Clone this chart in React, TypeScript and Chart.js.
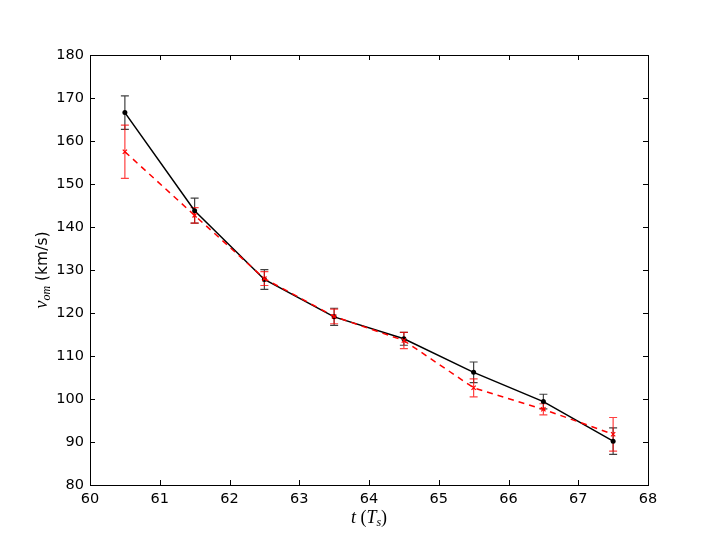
import React, { useEffect, useRef } from "react";
import { Chart, registerables } from "chart.js";

Chart.register(...registerables);

const tValues = [60.5, 61.5, 62.5, 63.5, 64.5, 65.5, 66.5, 67.5];
const blackValues = [166.6, 143.8, 127.8, 119.1, 114.0, 106.2, 99.4, 90.2];
const blackErrors = [3.9, 2.9, 2.3, 2.0, 1.5, 2.4, 1.7, 3.1];
const redValues = [157.5, 142.7, 128.0, 119.2, 113.6, 102.6, 97.6, 91.8];
const redErrors = [6.2, 1.8, 1.6, 1.7, 1.9, 2.1, 1.3, 3.9];
const xTicks = [60, 61, 62, 63, 64, 65, 66, 67, 68];
const yTicks = [80, 90, 100, 110, 120, 130, 140, 150, 160, 170, 180];

const errorSets = [
  { values: blackValues, errors: blackErrors, color: "rgba(0,0,0,0.75)" },
  { values: redValues, errors: redErrors, color: "rgba(255,0,0,0.75)" },
];

const errPlugin = {
  id: "errbars",
  beforeDatasetsDraw(chart: any) {
    const ctx = chart.ctx;
    const xs = chart.scales.x;
    const ys = chart.scales.y;
    ctx.save();
    errorSets.forEach((set) => {
      ctx.strokeStyle = set.color;
      ctx.lineWidth = 1.2;
      set.values.forEach((v, j) => {
        const x = xs.getPixelForValue(tValues[j]);
        const yt = ys.getPixelForValue(v + set.errors[j]);
        const yb = ys.getPixelForValue(v - set.errors[j]);
        ctx.beginPath();
        ctx.moveTo(x, yt);
        ctx.lineTo(x, yb);
        ctx.moveTo(x - 4, yt);
        ctx.lineTo(x + 4, yt);
        ctx.moveTo(x - 4, yb);
        ctx.lineTo(x + 4, yb);
        ctx.stroke();
      });
    });
    ctx.restore();
  },
  afterDraw(chart: any) {
    const ctx = chart.ctx;
    const a = chart.chartArea;
    const xs = chart.scales.x;
    const ys = chart.scales.y;
    ctx.save();
    ctx.strokeStyle = "#000";
    ctx.lineWidth = 1;
    ctx.strokeRect(a.left + 0.5, a.top + 0.5, a.right - a.left, a.bottom - a.top);
    const L = 5;
    ctx.beginPath();
    xTicks.forEach((t) => {
      const x = Math.round(xs.getPixelForValue(t)) + 0.5;
      ctx.moveTo(x, a.bottom);
      ctx.lineTo(x, a.bottom - L);
      ctx.moveTo(x, a.top);
      ctx.lineTo(x, a.top + L);
    });
    yTicks.forEach((t) => {
      const y = Math.round(ys.getPixelForValue(t)) + 0.5;
      ctx.moveTo(a.left, y);
      ctx.lineTo(a.left + L, y);
      ctx.moveTo(a.right, y);
      ctx.lineTo(a.right - L, y);
    });
    ctx.stroke();

    // x axis title: t (T_s)
    ctx.fillStyle = "#000";
    ctx.textBaseline = "alphabetic";
    const cx = (a.left + a.right) / 2;
    const by = 523;
    const parts = [
      { t: "t", f: "italic 18px 'Liberation Serif'", dy: 0 },
      { t: " (", f: "18px 'Liberation Serif'", dy: 0 },
      { t: "T", f: "italic 18px 'Liberation Serif'", dy: 0 },
      { t: "s", f: "italic 12px 'Liberation Serif'", dy: 3 },
      { t: ")", f: "18px 'Liberation Serif'", dy: 0 },
    ];
    let total = 0;
    parts.forEach((p) => {
      ctx.font = p.f;
      total += ctx.measureText(p.t).width;
    });
    let x0 = cx - total / 2;
    ctx.textAlign = "left";
    parts.forEach((p) => {
      ctx.font = p.f;
      ctx.fillText(p.t, x0, by + p.dy);
      x0 += ctx.measureText(p.t).width;
    });

    // y axis title: v_om (km/s)
    ctx.translate(47, (a.top + a.bottom) / 2);
    ctx.rotate(-Math.PI / 2);
    const yparts = [
      { t: "v", f: "italic 18px 'Liberation Serif'", dy: 0 },
      { t: "om", f: "italic 12px 'Liberation Serif'", dy: 3 },
      { t: " (km/s)", f: "15.5px 'DejaVu Sans'", dy: 0 },
    ];
    total = 0;
    yparts.forEach((p) => {
      ctx.font = p.f;
      total += ctx.measureText(p.t).width;
    });
    x0 = -total / 2;
    yparts.forEach((p) => {
      ctx.font = p.f;
      ctx.fillText(p.t, x0, p.dy);
      x0 += ctx.measureText(p.t).width;
    });
    ctx.restore();
  },
};

export default function App() {
  const ref = useRef<HTMLCanvasElement>(null);
  useEffect(() => {
    if (!ref.current) return;
    const chart = new Chart(ref.current, {
      type: "line",
      data: {
        datasets: [
          {
            label: "black",
            data: tValues.map((t, i) => ({ x: t, y: blackValues[i] })),
            borderColor: "#000",
            backgroundColor: "#000",
            borderWidth: 1.5,
            pointRadius: 2.5,
            pointStyle: "circle",
            pointBorderWidth: 0,
            order: 1,
          },
          {
            label: "red",
            data: tValues.map((t, i) => ({ x: t, y: redValues[i] })),
            borderColor: "#ff0000",
            backgroundColor: "#ff0000",
            borderWidth: 1.5,
            borderDash: [6, 5],
            pointRadius: 3,
            pointStyle: "crossRot",
            pointBorderWidth: 1.2,
            order: 0,
          },
        ],
      },
      options: {
        animation: false,
        responsive: false,
        maintainAspectRatio: false,
        layout: { padding: { left: 0, top: 55, right: 72, bottom: 0 } },
        plugins: { legend: { display: false }, tooltip: { enabled: false } },
        scales: {
          x: {
            type: "linear",
            min: 60,
            max: 68,
            afterFit: (s: any) => {
              s.height = 55;
            },
            afterBuildTicks: (s: any) => {
              s.ticks = xTicks.map((v) => ({ value: v }));
            },
            grid: { display: false, drawTicks: false },
            border: { display: false },
            ticks: {
              color: "#000",
              padding: 6,
              font: { family: "DejaVu Sans", size: 14.5 },
            },
          },
          y: {
            type: "linear",
            min: 80,
            max: 180,
            afterFit: (s: any) => {
              s.width = 90;
            },
            afterBuildTicks: (s: any) => {
              s.ticks = yTicks.map((v) => ({ value: v }));
            },
            grid: { display: false, drawTicks: false },
            border: { display: false },
            ticks: {
              color: "#000",
              padding: 6,
              font: { family: "DejaVu Sans", size: 14.5 },
            },
          },
        },
      },
      plugins: [errPlugin],
    });
    return () => chart.destroy();
  }, []);
  return (
    <div style={{ position: "fixed", left: 0, top: 0, width: 720, height: 540, background: "#fff" }}>
      <canvas ref={ref} width={720} height={540} />
    </div>
  );
}
